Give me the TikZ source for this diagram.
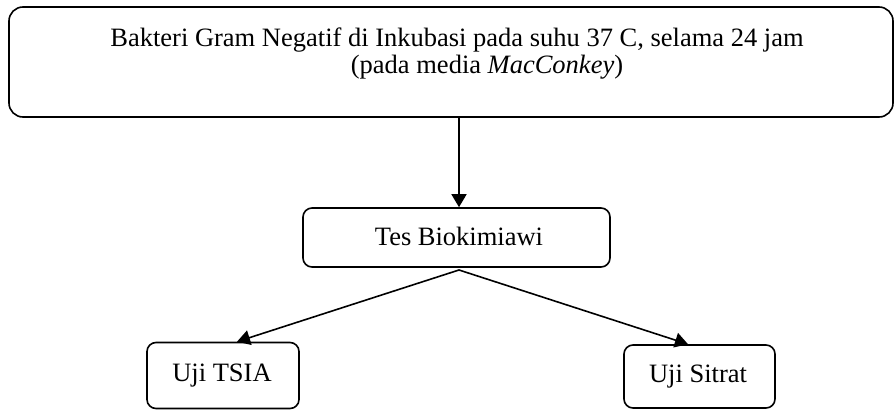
\documentclass[tikz,border=0pt]{standalone}
\usepackage{fontspec}
\setmainfont{Liberation Serif}
\usetikzlibrary{arrows.meta}
\begin{document}
\begin{tikzpicture}[x=1pt,y=-1pt,
  box/.style={draw, line width=1.6pt, rounded corners=#1, inner sep=0pt},
  lbl/.style={anchor=base, inner sep=0pt, font=\fontsize{26.5}{27}\selectfont},
  arr/.style={line width=1.6pt, -{Triangle[length=13pt,width=15pt]}},
  ln/.style={line width=1.6pt}
]
\useasboundingbox (0,0) rectangle (895,410);
\node[box=14pt, minimum width=884pt, minimum height=110pt] (top) at (451,62) {};
\node[box=9pt, minimum width=307pt, minimum height=59pt] (tes) at (456.5,237.5) {};
\node[box=9pt, minimum width=152pt, minimum height=66pt] (tsia) at (223,375.5) {};
\node[box=9pt, minimum width=151pt, minimum height=63pt] (sitrat) at (699.5,376.5) {};
\coordinate (apex) at (459,270);

\node[lbl] (t1) at (457,46) {Bakteri Gram Negatif di Inkubasi pada suhu 37 C, selama 24 jam};
\node[lbl] (t2) at (487,73) {(pada media \textit{MacConkey})};
\node[lbl] (t3) at (459,245) {Tes Biokimiawi};
\node[lbl] (t4) at (222,381) {Uji TSIA};
\node[lbl] (t5) at (698,382) {Uji Sitrat};

\draw[arr] (top.south -| apex) -- (tes.north -| apex);
\draw[arr] (apex) -- ([xshift=14pt]tsia.north);
\draw[arr] (apex) -- ([xshift=-11.5pt]sitrat.north);
\end{tikzpicture}
\end{document}
